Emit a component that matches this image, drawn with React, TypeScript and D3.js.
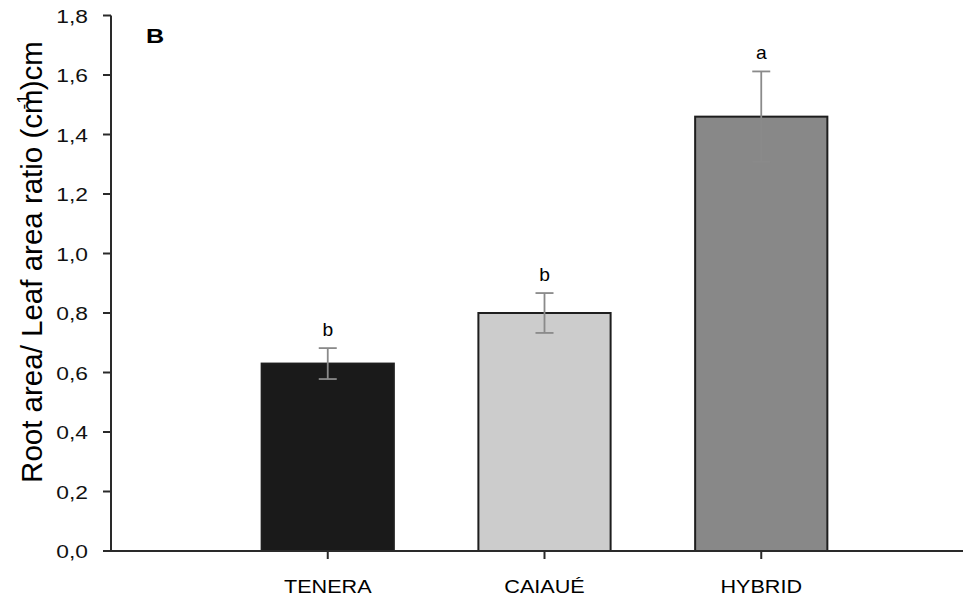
import React from "react";
import * as d3 from "d3";

const categories = ["TENERA", "CAIAUÉ", "HYBRID"];
const values = [0.63, 0.80, 1.46];
const errors = [0.052, 0.067, 0.152];
const letters = ["b", "b", "a"];
const barColors = ["#1a1a1a", "#cccccc", "#888888"];
const yTicks = [0, 0.2, 0.4, 0.6, 0.8, 1.0, 1.2, 1.4, 1.6, 1.8];

const W = 965;
const H = 597;
const left = 111;
const right = 963;
const top = 15.5;
const bottom = 551;
const SX = 1.2;

export default function App() {
  const y = d3.scaleLinear().domain([0, 1.8]).range([bottom, top]);
  const x = d3.scalePoint<string>().domain(categories).range([left, 978]).padding(1);
  const step = x.step();
  const barW = step * 0.61;
  const capW = 18;
  const fmt = (v: number) => v.toFixed(1).replace(".", ",");
  const font = "Arial, 'Liberation Sans', Helvetica, sans-serif";

  return (
    <svg
      width={W}
      height={H}
      style={{ position: "absolute", left: 0, top: 0, background: "#fff" }}
      fontFamily={font}
    >
      <rect x={0} y={0} width={W} height={H} fill="#fff" />
      {categories.map((c, i) => {
        const cx = x(c)!;
        return (
          <rect
            key={c}
            x={cx - barW / 2}
            y={y(values[i])}
            width={barW}
            height={bottom - y(values[i])}
            fill={barColors[i]}
            stroke="#1e1e1e"
            strokeWidth={2}
          />
        );
      })}
      {categories.map((c, i) => {
        const cx = x(c)!;
        const hi = y(values[i] + errors[i]);
        const lo = y(values[i] - errors[i]);
        return (
          <g key={"e" + c} stroke="#8a8a8a" strokeWidth={1.8}>
            <line x1={cx} x2={cx} y1={hi} y2={lo} />
            <line x1={cx - capW / 2} x2={cx + capW / 2} y1={hi} y2={hi} />
            <line x1={cx - capW / 2} x2={cx + capW / 2} y1={lo} y2={lo} />
          </g>
        );
      })}
      {categories.map((c, i) => {
        const cx = x(c)!;
        const hi = y(values[i] + errors[i]);
        return (
          <text
            key={"l" + c}
            transform={`translate(${cx},${hi - 12}) scale(1.1,1)`}
            textAnchor="middle"
            fontSize={17.5}
            fill="#000"
          >
            {letters[i]}
          </text>
        );
      })}
      <line x1={left} x2={left} y1={top} y2={bottom} stroke="#2a2a2a" strokeWidth={2} />
      {yTicks.map((t) => (
        <g key={"yt" + t}>
          <line x1={left - 8} x2={left} y1={y(t)} y2={y(t)} stroke="#2a2a2a" strokeWidth={2} />
          <text
            transform={`translate(${left - 23},${y(t) + 7}) scale(${SX},1)`}
            textAnchor="end"
            fontSize={19}
            fill="#111"
          >
            {fmt(t)}
          </text>
        </g>
      ))}
      <line x1={left - 1} x2={right} y1={bottom} y2={bottom} stroke="#2a2a2a" strokeWidth={2} />
      {categories.map((c) => (
        <g key={"xt" + c}>
          <line x1={x(c)!} x2={x(c)!} y1={bottom} y2={bottom + 8} stroke="#2a2a2a" strokeWidth={2} />
          <text
            transform={`translate(${x(c)!},${bottom + 42}) scale(${SX},1)`}
            textAnchor="middle"
            fontSize={18}
            fill="#000"
          >
            {c}
          </text>
        </g>
      ))}
      <text
        transform={`translate(146,43) scale(${SX},1)`}
        fontSize={21}
        fontWeight="bold"
        fill="#000"
      >
        B
      </text>
      <text
        transform={`translate(42,262) rotate(-90)`}
        textAnchor="middle"
        fontSize={29.5}
        fill="#000"
      >
        Root area/ Leaf area ratio (cm
        <tspan dx={-20} dy={-13} fontSize={17}>-1</tspan>
        <tspan dx={4} dy={13}>)cm</tspan>
      </text>
    </svg>
  );
}
